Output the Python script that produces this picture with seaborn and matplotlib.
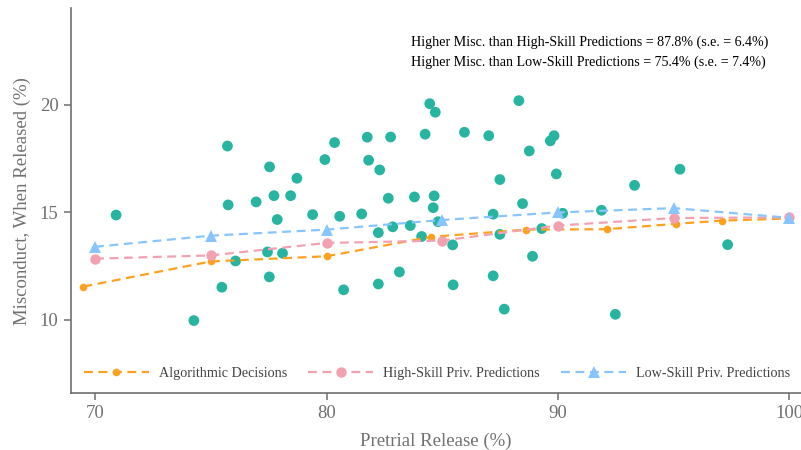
import numpy as np
import pandas as pd
import matplotlib
matplotlib.use("Agg")
import matplotlib.pyplot as plt
import seaborn as sns

# Judge-level outcomes: release rate vs. misconduct among released defendants
judge_release = [70.91, 74.27, 75.48, 75.72, 75.75, 76.07, 76.96, 77.45, 77.53, 77.54,
                 77.73, 77.87, 78.10, 78.45, 78.72, 79.40, 79.93, 80.35, 80.57, 80.74,
                 81.52, 81.76, 81.82, 82.24, 82.24, 82.30, 82.67, 82.77, 82.86, 83.15,
                 83.62, 83.80, 84.11, 84.26, 84.46, 84.61, 84.65, 84.70, 84.82, 85.45,
                 85.47, 85.96, 87.01, 87.20, 87.20, 87.49, 87.49, 87.68, 88.31, 88.47,
                 88.76, 88.90, 89.30, 89.67, 89.83, 89.93, 90.20, 91.88, 92.48, 93.31,
                 95.27, 97.33]
judge_misc = [14.88, 9.97, 11.52, 18.09, 15.35, 12.74, 15.49, 13.16, 12.00, 17.12,
              15.78, 14.67, 13.10, 15.78, 16.59, 14.90, 17.46, 18.25, 14.82, 11.40,
              14.93, 18.50, 17.43, 14.06, 11.67, 16.98, 15.66, 18.51, 14.33, 12.23,
              14.39, 15.72, 13.88, 18.64, 20.06, 15.22, 15.77, 19.66, 14.57, 13.49,
              11.63, 18.73, 18.57, 14.92, 12.05, 16.53, 13.98, 10.50, 20.20, 15.41,
              17.86, 12.96, 14.25, 18.33, 18.57, 16.79, 14.96, 15.10, 10.26, 16.26,
              17.01, 13.50]

# Counterfactual frontiers
algo_release = [69.5, 75, 80, 84.5, 88.6, 92.1, 95.1, 97.1, 100]
algo_misc = [11.55, 12.72, 12.96, 13.86, 14.20, 14.22, 14.47, 14.62, 14.72]

high_release = [70, 75, 80, 85, 90, 95, 100]
high_misc = [12.85, 13.00, 13.58, 13.69, 14.39, 14.74, 14.77]

low_release = [70, 75, 80, 85, 90, 95, 100]
low_misc = [13.40, 13.92, 14.20, 14.65, 15.00, 15.20, 14.75]

series_labels = ["Algorithmic Decisions", "High-Skill Priv. Predictions",
                 "Low-Skill Priv. Predictions"]
annotation_lines = ["Higher Misc. than High-Skill Predictions = 87.8% (s.e. = 6.4%)",
                    "Higher Misc. than Low-Skill Predictions = 75.4% (s.e. = 7.4%)"]

sns.set_theme(style="ticks")
plt.rcParams["font.family"] = ["Liberation Serif", "DejaVu Serif"]

teal = "#27B4A0"
orange = "#FFA11F"
pink = "#F2A1B0"
blue = "#88C5FF"
axis_gray = "#6f6f6f"
text_gray = "#707070"

fig = plt.figure(figsize=(8.01, 4.5), dpi=100)
ax = fig.add_axes([0.0886, 0.1267, 0.9114, 0.855])

judges = pd.DataFrame({"release": judge_release, "misc": judge_misc})
sns.scatterplot(data=judges, x="release", y="misc", ax=ax, color=teal,
                s=60, edgecolor="none", zorder=2, legend=False)

frontiers = [
    (algo_release, algo_misc, orange, "o", 5.5, series_labels[0]),
    (high_release, high_misc, pink, "o", 7.5, series_labels[1]),
    (low_release, low_misc, blue, "^", 8.5, series_labels[2]),
]
for xs, ys, col, mk, ms, lab in frontiers:
    df = pd.DataFrame({"release": xs, "misc": ys})
    sns.lineplot(data=df, x="release", y="misc", ax=ax, color=col,
                 marker=mk, markersize=ms, markeredgewidth=0,
                 linewidth=1.6, dashes=False, label=lab, zorder=3)
    ax.lines[-1].set_dashes((4, 2.5))

ax.set_xlim(68.96, 100.5)
ax.set_ylim(6.6, 24.5)
ax.set_xticks([70, 80, 90, 100])
ax.set_yticks([10, 15, 20])
ax.set_xlabel("Pretrial Release (%)", fontsize=13.5, color=text_gray, labelpad=7)
ax.set_ylabel("Misconduct, When Released (%)", fontsize=13.5, color=text_gray,
              labelpad=6)
ax.tick_params(axis="both", labelsize=13.5, colors=axis_gray, labelcolor=text_gray,
               length=5, width=1.1, direction="out", pad=4)
sns.despine(ax=ax)
for side in ("left", "bottom"):
    ax.spines[side].set_color(axis_gray)
    ax.spines[side].set_linewidth(1.2)

leg = ax.legend(loc="lower left", bbox_to_anchor=(0.0, 0.0), ncol=3,
                frameon=False, fontsize=10.2, handlelength=4.6, handletextpad=0.7,
                columnspacing=1.5)
for t in leg.get_texts():
    t.set_color("#444444")
for h in leg.get_lines():
    h.set_dashes((4, 2.5))

for i, line in enumerate(annotation_lines):
    ax.text(411 / 801, (450 - 42 - 20 * i) / 450, line, transform=fig.transFigure,
            fontsize=10.1, color="black", ha="left", va="center")

fig.savefig("out.png", dpi=100)
